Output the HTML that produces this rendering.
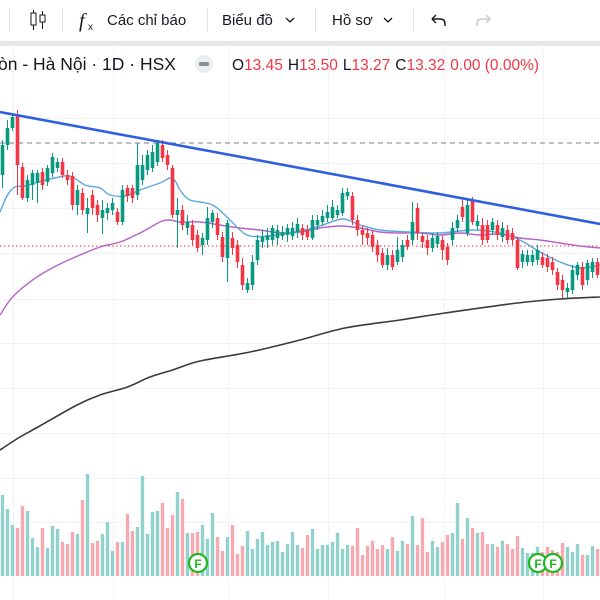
<!DOCTYPE html>
<html><head><meta charset="utf-8">
<style>
html,body{margin:0;padding:0;background:#fff;overflow:hidden;}
body{width:600px;height:600px;position:relative;font-family:"Liberation Sans","Noto Sans CJK SC",sans-serif;}
svg{position:absolute;left:0;top:0;}
</style></head>
<body>
<svg id="chart" width="600" height="600" viewBox="0 0 600 600">
  <rect x="0" y="0" width="600" height="600" fill="#ffffff"/>
  <g id="grid"></g>
  <g id="volume"></g>
  <g id="lines"></g>
  <g id="candles"></g>
  <g id="markers"></g>
  <g>
    <rect x="0" y="0" width="600" height="41" fill="#ffffff"/>
    <rect x="0" y="41" width="600" height="5" fill="#e6e7eb"/>
    <line x1="9.5" y1="8" x2="9.5" y2="32" stroke="#e0e3eb"/>
    <g>
      <line x1="33.5" y1="10" x2="33.5" y2="30" stroke="#131722"/>
      <rect x="31" y="13" width="5" height="12" fill="#fff" stroke="#131722"/>
      <line x1="42.5" y1="11" x2="42.5" y2="29" stroke="#131722"/>
      <rect x="40" y="15" width="5" height="7" fill="#fff" stroke="#131722"/>
    </g>
    <line x1="62.5" y1="8" x2="62.5" y2="32" stroke="#e0e3eb"/>
    <g>
      <text x="79" y="27" font-family="Liberation Serif, serif" font-style="italic" font-size="20" fill="#131722">f</text>
      <text x="88" y="30" font-size="10" fill="#131722">x</text>
      <text x="107" y="25" font-size="15" fill="#131722">Các chỉ báo</text>
    </g>
    <line x1="207.5" y1="8" x2="207.5" y2="32" stroke="#e0e3eb"/>
    <g>
      <text x="222" y="25" font-size="15" fill="#131722">Biểu đồ</text>
      <path d="M286 18 l4 4 l4 -4" fill="none" stroke="#131722" stroke-width="1.3"/>
    </g>
    <line x1="315.5" y1="8" x2="315.5" y2="32" stroke="#e0e3eb"/>
    <g>
      <text x="332" y="25" font-size="15" fill="#131722">Hồ sơ</text>
      <path d="M384 18 l4 4 l4 -4" fill="none" stroke="#131722" stroke-width="1.3"/>
    </g>
    <line x1="413.5" y1="8" x2="413.5" y2="32" stroke="#e0e3eb"/>
    <g>
      <path d="M432 19 l4 -4 M432 19 l4 4 M432 19 h8 q5 0 5 5 v2" fill="none" stroke="#131722" stroke-width="1.4"/>
    </g>
    <g>
      <path d="M490 19 l-4 -4 M490 19 l-4 4 M490 19 h-8 q-5 0 -5 5 v2" fill="none" stroke="#c7c8cd" stroke-width="1.4"/>
    </g>
  </g>
  <g>
    <text x="-2" y="70" font-size="17.5" fill="#131722">òn - Hà Nội · 1D · HSX</text>
    <circle cx="204" cy="64" r="9" fill="#eceef2"/>
    <rect x="199" y="62" width="10" height="4" rx="2" fill="#8a8d96"/>
    <text x="232" y="70" font-size="15.5"><tspan fill="#131722">O</tspan><tspan fill="#f23645">13.45</tspan><tspan fill="#131722" dx="5">H</tspan><tspan fill="#f23645">13.50</tspan><tspan fill="#131722" dx="5">L</tspan><tspan fill="#f23645">13.27</tspan><tspan fill="#131722" dx="5">C</tspan><tspan fill="#f23645">13.32</tspan><tspan fill="#f23645" dx="5">0.00 (0.00%)</tspan></text>
  </g>
</svg>
<script>
// ---- data ----
const openP=[14.03,14.33,14.50,14.63,14.11,13.80,13.93,13.95,14.06,13.96,14.05,14.10,14.16,14.03,14.02,13.73,13.85,13.64,13.83,13.73,13.60,13.65,13.68,13.66,13.56,13.90,13.90,13.83,13.98,14.08,14.10,14.16,14.33,14.23,14.10,13.63,13.68,13.50,13.53,13.43,13.33,13.38,13.56,13.60,13.41,13.20,13.40,13.33,13.13,12.88,12.93,13.18,13.36,13.38,13.38,13.40,13.42,13.43,13.42,13.46,13.50,13.48,13.40,13.53,13.56,13.60,13.60,13.63,13.65,13.82,13.82,13.58,13.48,13.45,13.43,13.33,13.25,13.13,13.23,13.16,13.21,13.38,13.38,13.70,13.42,13.38,13.30,13.34,13.38,13.31,13.38,13.50,13.71,13.45,13.78,13.52,13.53,13.53,13.48,13.53,13.41,13.48,13.45,13.38,13.16,13.16,13.16,13.18,13.21,13.20,13.16,13.06,12.98,12.86,12.88,13.03,13.11,12.98,13.06,13.16];
const highP=[14.38,14.58,14.65,14.68,14.15,14.03,14.08,14.08,14.10,14.13,14.25,14.20,14.20,14.08,14.06,13.93,13.90,13.80,13.88,13.78,13.78,13.75,13.80,13.70,13.93,13.93,13.93,14.35,14.23,14.28,14.33,14.38,14.38,14.28,14.13,13.80,13.73,13.63,13.58,13.48,13.45,13.71,13.68,13.65,13.46,13.58,13.46,13.38,13.20,13.00,13.23,13.43,13.48,13.50,13.53,13.53,13.52,13.54,13.56,13.60,13.54,13.53,13.63,13.63,13.68,13.73,13.78,13.73,13.90,13.90,13.86,13.63,13.53,13.50,13.48,13.38,13.30,13.30,13.28,13.41,13.38,13.43,13.76,13.75,13.46,13.43,13.45,13.46,13.42,13.35,13.56,13.63,13.78,13.78,13.81,13.63,13.60,13.58,13.60,13.58,13.56,13.53,13.50,13.41,13.28,13.28,13.28,13.33,13.26,13.24,13.21,13.10,13.03,12.95,13.13,13.16,13.16,13.18,13.20,13.20];
const lowP=[13.90,14.28,14.47,13.83,13.78,13.76,13.78,13.75,13.88,13.92,14.01,14.06,14.00,13.93,13.68,13.63,13.63,13.45,13.63,13.56,13.44,13.58,13.63,13.53,13.53,13.76,13.75,13.78,13.93,14.03,14.06,14.12,14.16,14.08,13.60,13.30,13.48,13.43,13.33,13.26,13.23,13.33,13.50,13.38,13.16,12.96,13.23,13.10,12.88,12.85,12.88,13.13,13.30,13.30,13.33,13.33,13.38,13.36,13.38,13.40,13.38,13.38,13.38,13.48,13.52,13.56,13.58,13.60,13.62,13.78,13.53,13.42,13.33,13.33,13.26,13.16,13.10,13.08,13.08,13.13,13.16,13.28,13.33,13.38,13.30,13.23,13.26,13.30,13.18,13.13,13.33,13.46,13.56,13.42,13.53,13.48,13.33,13.35,13.43,13.38,13.36,13.34,13.33,13.08,13.10,13.12,13.12,13.13,13.10,13.06,13.03,12.88,12.80,12.80,12.84,12.98,12.88,12.93,13.00,13.00];
const closeP=[14.33,14.50,14.61,14.13,13.80,13.98,14.05,14.05,13.93,14.10,14.21,14.16,14.03,13.98,13.73,13.88,13.68,13.70,13.70,13.63,13.68,13.70,13.75,13.56,13.88,13.82,13.80,14.13,14.13,14.23,14.26,14.35,14.20,14.13,13.63,13.68,13.53,13.56,13.38,13.30,13.40,13.60,13.65,13.43,13.21,13.55,13.30,13.16,12.93,12.95,13.16,13.38,13.41,13.43,13.50,13.48,13.46,13.50,13.50,13.54,13.43,13.41,13.58,13.58,13.62,13.66,13.71,13.68,13.85,13.86,13.58,13.48,13.43,13.40,13.31,13.23,13.13,13.23,13.11,13.28,13.33,13.31,13.56,13.45,13.36,13.30,13.40,13.42,13.28,13.18,13.50,13.58,13.61,13.73,13.56,13.57,13.38,13.38,13.56,13.43,13.50,13.38,13.38,13.10,13.24,13.23,13.23,13.28,13.13,13.11,13.08,12.93,12.88,12.90,13.08,13.13,12.93,13.15,13.16,13.03];
const volume=[81,67,51,48,70,65,38,29,48,28,50,47,34,32,44,42,76,102,33,35,42,54,25,34,34,62,45,49,100,42,64,65,73,48,61,84,77,43,43,44,51,37,63,39,25,39,51,22,30,45,27,37,44,31,34,35,24,32,44,31,28,41,47,27,31,31,34,43,27,31,30,48,21,30,35,27,31,27,39,25,35,32,60,31,58,24,35,29,34,41,43,73,37,58,48,43,44,32,32,29,35,32,27,40,28,23,23,29,24,29,26,24,33,29,24,32,21,21,30,27];
const blueIdx=[-0.5,1,2.5,4.5,6.5,8.5,10.5,13.5,16.5,19.5,21.5,24.5,27.5,31.5,34,35.5,37.5,42,45.5,47.5,49.5,53.5,59.5,63.5,68,71.5,75.5,81.5,87.5,94,99.5,103.5,107.5,111.5,115.5,119.5];
const blueVal=[13.66,13.83,13.91,13.92,13.95,13.98,14.00,14.02,13.93,13.90,13.83,13.82,13.88,13.95,14.00,13.88,13.78,13.73,13.58,13.48,13.42,13.42,13.47,13.52,13.59,13.53,13.48,13.46,13.45,13.48,13.45,13.38,13.26,13.16,13.10,13.13];
const purpleIdx=[-0.5,1.5,3.5,5.5,7.5,11.5,15.5,19.5,23.5,27.5,31.5,33.5,35.5,39.5,43.5,47.5,51.5,55.5,59.5,63.5,67.5,71.5,75.5,79.5,83.5,87.5,91.5,95.5,99.5,103.5,107.5,111.5,115.5,119.5];
const purpleVal=[12.63,12.78,12.88,12.96,13.03,13.14,13.23,13.31,13.36,13.45,13.56,13.58,13.56,13.56,13.53,13.50,13.48,13.45,13.46,13.50,13.52,13.50,13.46,13.45,13.45,13.43,13.45,13.43,13.44,13.40,13.38,13.35,13.32,13.30];
const blackIdx=[-0.5,3.5,7.1,14.9,19.5,25,29.5,34,39.5,49.5,59.5,68.5,79.5,88.5,103,111.5,119.5];
const blackVal=[11.28,11.41,11.51,11.73,11.83,11.91,12.01,12.08,12.17,12.26,12.38,12.50,12.58,12.65,12.75,12.79,12.81];
const trendIdx=[-0.5,119.5];
const trendVal=[14.66,13.54];
const resistanceLevel=14.35;
const lastPrice=13.32;
const dividendIdx=[39,107,110];

// ---- axes ----
const NS='http://www.w3.org/2000/svg';
function xOf(i){return 2.5+5*i;}
function yOf(p){return (15.78-p)*100;}
const volBase=576;
function yVol(v){return volBase-v;}
function mk(tag,attrs,parent){const e=document.createElementNS(NS,tag);for(const k in attrs)e.setAttribute(k,attrs[k]);parent.appendChild(e);return e;}

const grid=document.getElementById('grid');
[13,113,228,328,444,543].forEach(x=>{
  const l=mk('line',{x1:x+.5,y1:46,x2:x+.5,y2:600,stroke:'#f0f3fa'},grid);
  
  
});
[118,163,208,253,299,343,388,433,478,522].forEach(y=>{
  const l=mk('line',{x1:0,y1:y+.5,x2:600,y2:y+.5,stroke:'#f0f3fa'},grid);
  
  
});

const vg=document.getElementById('volume');
volume.forEach((v,i)=>{
  const up=closeP[i]>=openP[i];
  const r=mk('rect',{x:xOf(i)-1.7,y:yVol(v),width:3.4,height:v,fill:up?'#92d2cc':'#f7a9b1'},vg);
  
  
});

const lg=document.getElementById('lines');
function smoothPath(idx,val){
  const P=idx.map((ix,k)=>[xOf(ix),yOf(val[k])]);
  let d='M'+P[0][0].toFixed(1)+','+P[0][1].toFixed(1);
  for(let k=0;k<P.length-1;k++){
    const p0=P[Math.max(0,k-1)],p1=P[k],p2=P[k+1],p3=P[Math.min(P.length-1,k+2)];
    const c1=[p1[0]+(p2[0]-p0[0])/6,p1[1]+(p2[1]-p0[1])/6];
    const c2=[p2[0]-(p3[0]-p1[0])/6,p2[1]-(p3[1]-p1[1])/6];
    d+=' C'+c1[0].toFixed(1)+','+c1[1].toFixed(1)+' '+c2[0].toFixed(1)+','+c2[1].toFixed(1)+' '+p2[0].toFixed(1)+','+p2[1].toFixed(1);
  }
  return d;
}
function line(idx,val,color,w,name){
  const p=mk('path',{d:smoothPath(idx,val),fill:'none',stroke:color,'stroke-width':w,'stroke-linejoin':'round'},lg);
  
  
}
const res=mk('line',{x1:0,y1:yOf(resistanceLevel),x2:600,y2:yOf(resistanceLevel),stroke:'#9598a1','stroke-width':1.2,'stroke-dasharray':'5 4'},lg);


const lp=mk('line',{x1:0,y1:yOf(lastPrice),x2:600,y2:yOf(lastPrice),stroke:'#f23645','stroke-width':1,'stroke-dasharray':'1.5 2.5'},lg);


line(blackIdx,blackVal,'#3a3a3a',1.6,'ma-200-line');
line(purpleIdx,purpleVal,'#b561c8',1.4,'ma-50-line');
line(blueIdx,blueVal,'#5da6e0',1.4,'ma-20-line');

const cg=document.getElementById('candles');
openP.forEach((o,i)=>{
  const c=closeP[i];const up=c>=o;const col=up?'#089981':'#f23645';
  const x=xOf(i);
  const g=mk('g',{},cg);
  
  
  mk('line',{x1:x,y1:yOf(highP[i]),x2:x,y2:yOf(lowP[i]),stroke:col,'stroke-width':1},g);
  const top=yOf(Math.max(o,c));const h=Math.max(1,yOf(Math.min(o,c))-top);
  mk('rect',{x:x-1.8,y:top,width:3.6,height:h,fill:col},g);
});

const tl=mk('line',{x1:xOf(trendIdx[0]),y1:yOf(trendVal[0]),x2:xOf(trendIdx[1]),y2:yOf(trendVal[1]),stroke:'#2f5fe0','stroke-width':2.6},cg);



const mg=document.getElementById('markers');
dividendIdx.forEach(i=>{
  const g=mk('g',{},mg);
  
  
  mk('circle',{cx:xOf(i)+0.5,cy:563,r:9,fill:'#ffffff',stroke:'#22b722','stroke-width':2.2},g);
  const t=mk('text',{x:xOf(i)+0.5,y:568,'text-anchor':'middle','font-size':12,fill:'#22b722','font-weight':'bold'},g);
  t.textContent='F';
});
</script>
</body></html>
